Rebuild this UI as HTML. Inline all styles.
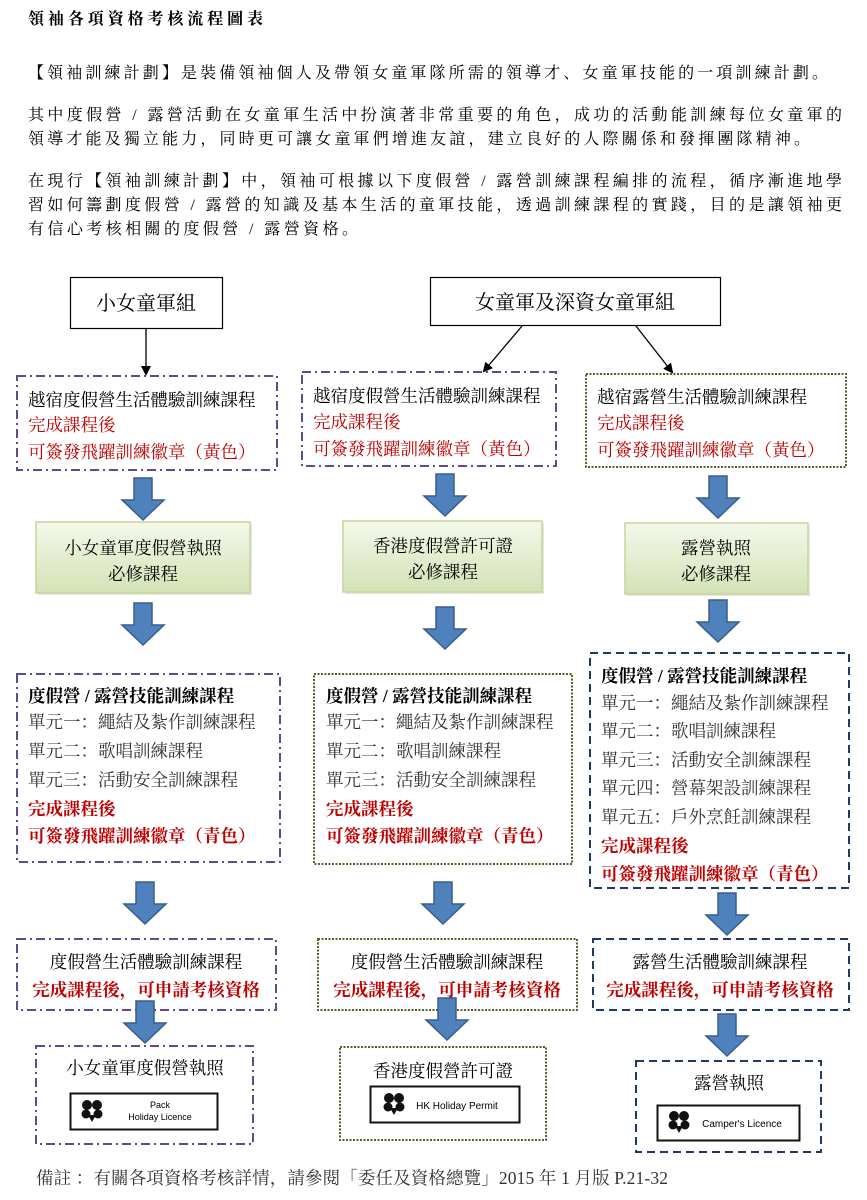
<!DOCTYPE html>
<html><head><meta charset="utf-8"><style>
html,body{margin:0;padding:0;background:#fff;}
svg{display:block;font-family:"Liberation Serif","Noto Serif CJK SC","Noto Sans CJK TC",serif;}
.t{font-size:17.5px;fill:#000;}
.r{font-size:17.5px;fill:#c00000;}
.g{font-size:17.5px;fill:#333;}
.b{font-weight:bold;}
.p{font-size:16px;fill:#000;}
</style></head><body>
<svg width="867" height="1200" viewBox="0 0 867 1200" xmlns="http://www.w3.org/2000/svg">
<defs>
<linearGradient id="gg" x1="0" y1="0" x2="0" y2="1"><stop offset="0" stop-color="#f4f8ea"/><stop offset="1" stop-color="#d4e2b6"/></linearGradient>
<marker id="ah" markerWidth="10" markerHeight="10" refX="8" refY="5" orient="auto" markerUnits="userSpaceOnUse"><path d="M0,0 L10,5 L0,10 z" fill="#000"/></marker>
<g id="arr"><path d="M-9,0 H9 V22 H21 L0,42 L-21,22 H-9 Z" fill="#4f81bd" stroke="#385d8a" stroke-width="1.5"/></g>
<g id="flower"><circle cx="-5" cy="-5" r="5" fill="#111"/><circle cx="5" cy="-5" r="5" fill="#111"/><circle cx="-6" cy="4" r="4.5" fill="#111"/><circle cx="6" cy="4" r="4.5" fill="#111"/><path d="M-4,5 L0,12 L4,5 Z" fill="#111"/></g>
</defs>

<text x="28" y="24" class="p b" font-size="16" textLength="235">領袖各項資格考核流程圖表</text>
<text x="28" y="78" class="p" textLength="800">【領袖訓練計劃】是裝備領袖個人及帶領女童軍隊所需的領導才、女童軍技能的一項訓練計劃。</text>
<text x="28" y="120" class="p" textLength="814">其中度假營 / 露營活動在女童軍生活中扮演著非常重要的角色，成功的活動能訓練每位女童軍的</text>
<text x="28" y="144" class="p" textLength="782">領導才能及獨立能力，同時更可讓女童軍們增進友誼，建立良好的人際關係和發揮團隊精神。</text>
<text x="28" y="186" class="p" textLength="814">在現行【領袖訓練計劃】中，領袖可根據以下度假營 / 露營訓練課程編排的流程，循序漸進地學</text>
<text x="28" y="210" class="p" textLength="814">習如何籌劃度假營 / 露營的知識及基本生活的童軍技能，透過訓練課程的實踐，目的是讓領袖更</text>
<text x="28" y="234" class="p" textLength="330">有信心考核相關的度假營 / 露營資格。</text>

<rect x="70.5" y="277.5" width="152" height="51" fill="#fff" stroke="#000" stroke-width="1.2"/>
<text x="146" y="310" font-size="20" text-anchor="middle">小女童軍組</text>
<rect x="430.5" y="277.5" width="290" height="48" fill="#fff" stroke="#000" stroke-width="1.2"/>
<text x="575" y="309" font-size="20" text-anchor="middle">女童軍及深資女童軍組</text>
<line x1="146" y1="329" x2="146" y2="374" stroke="#000" stroke-width="1.3" marker-end="url(#ah)"/>
<line x1="522" y1="326" x2="484" y2="371" stroke="#000" stroke-width="1.3" marker-end="url(#ah)"/>
<line x1="636" y1="326" x2="672" y2="372" stroke="#000" stroke-width="1.3" marker-end="url(#ah)"/>

<rect x="17" y="376" width="260" height="94" fill="none" stroke="#5f4b8b" stroke-width="2" stroke-dasharray="9 4 2 4"/>
<text x="28" y="406" class="t">越宿度假營生活體驗訓練課程</text>
<text x="28" y="431" class="r">完成課程後</text>
<text x="28" y="458" class="r">可簽發飛躍訓練徽章（黃色）</text>
<rect x="302" y="372" width="254" height="94" fill="none" stroke="#5f4b8b" stroke-width="2" stroke-dasharray="9 4 2 4"/>
<text x="313" y="402" class="t">越宿度假營生活體驗訓練課程</text>
<text x="313" y="428" class="r">完成課程後</text>
<text x="313" y="455" class="r">可簽發飛躍訓練徽章（黃色）</text>
<rect x="586" y="374" width="260" height="93" fill="none" stroke="#4f6228" stroke-width="2" stroke-dasharray="2 1.5"/>
<text x="597" y="403" class="t">越宿露營生活體驗訓練課程</text>
<text x="597" y="429" class="r">完成課程後</text>
<text x="597" y="456" class="r">可簽發飛躍訓練徽章（黃色）</text>

<use href="#arr" x="143" y="478"/>
<use href="#arr" x="445" y="474"/>
<use href="#arr" x="718" y="476"/>

<rect x="38" y="524" width="214" height="71" fill="#ccc" opacity="0.5"/>
<rect x="36" y="522" width="214" height="71" fill="url(#gg)" stroke="#c3d69b" stroke-width="1.5"/>
<text x="143" y="554" class="t" text-anchor="middle">小女童軍度假營執照</text>
<text x="143" y="580" class="t" text-anchor="middle">必修課程</text>
<rect x="345" y="523" width="199" height="71" fill="#ccc" opacity="0.5"/>
<rect x="343" y="521" width="199" height="71" fill="url(#gg)" stroke="#c3d69b" stroke-width="1.5"/>
<text x="443" y="552" class="t" text-anchor="middle">香港度假營許可證</text>
<text x="443" y="578" class="t" text-anchor="middle">必修課程</text>
<rect x="627" y="525" width="183" height="71" fill="#ccc" opacity="0.5"/>
<rect x="625" y="523" width="183" height="71" fill="url(#gg)" stroke="#c3d69b" stroke-width="1.5"/>
<text x="716" y="554" class="t" text-anchor="middle">露營執照</text>
<text x="716" y="580" class="t" text-anchor="middle">必修課程</text>

<use href="#arr" x="143" y="603"/>
<use href="#arr" x="445" y="607"/>
<use href="#arr" x="718" y="600"/>

<rect x="17" y="674" width="263" height="188" fill="none" stroke="#5f4b8b" stroke-width="2" stroke-dasharray="9 4 2 4"/>
<text x="28" y="702" class="t b">度假營 / 露營技能訓練課程</text>
<text x="28" y="728" class="g">單元一：繩結及紮作訓練課程</text>
<text x="28" y="757" class="g">單元二：歌唱訓練課程</text>
<text x="28" y="786" class="g">單元三：活動安全訓練課程</text>
<text x="28" y="815" class="r b">完成課程後</text>
<text x="28" y="842" class="r b">可簽發飛躍訓練徽章（青色）</text>
<rect x="314" y="674" width="258" height="190" fill="none" stroke="#4f6228" stroke-width="2" stroke-dasharray="2 1.5"/>
<text x="326" y="702" class="t b">度假營 / 露營技能訓練課程</text>
<text x="326" y="728" class="g">單元一：繩結及紮作訓練課程</text>
<text x="326" y="757" class="g">單元二：歌唱訓練課程</text>
<text x="326" y="786" class="g">單元三：活動安全訓練課程</text>
<text x="326" y="815" class="r b">完成課程後</text>
<text x="326" y="842" class="r b">可簽發飛躍訓練徽章（青色）</text>
<rect x="590" y="653" width="259" height="235" fill="none" stroke="#1f3864" stroke-width="2" stroke-dasharray="8 5"/>
<text x="601" y="682" class="t b">度假營 / 露營技能訓練課程</text>
<text x="601" y="709" class="g">單元一：繩結及紮作訓練課程</text>
<text x="601" y="737" class="g">單元二：歌唱訓練課程</text>
<text x="601" y="766" class="g">單元三：活動安全訓練課程</text>
<text x="601" y="794" class="g">單元四：營幕架設訓練課程</text>
<text x="601" y="823" class="g">單元五：戶外烹飪訓練課程</text>
<text x="601" y="852" class="r b">完成課程後</text>
<text x="601" y="880" class="r b">可簽發飛躍訓練徽章（青色）</text>

<use href="#arr" x="145" y="882"/>
<use href="#arr" x="443" y="882"/>
<use href="#arr" x="727" y="893"/>

<rect x="17" y="939" width="259" height="71" fill="#fff" stroke="#5f4b8b" stroke-width="2" stroke-dasharray="9 4 2 4"/>
<text x="146" y="968" class="t" text-anchor="middle">度假營生活體驗訓練課程</text>
<text x="146" y="996" class="r b" text-anchor="middle">完成課程後，可申請考核資格</text>
<rect x="318" y="939" width="259" height="71" fill="#fff" stroke="#4f6228" stroke-width="2" stroke-dasharray="2 1.5"/>
<text x="447" y="968" class="t" text-anchor="middle">度假營生活體驗訓練課程</text>
<text x="447" y="996" class="r b" text-anchor="middle">完成課程後，可申請考核資格</text>
<rect x="593" y="939" width="256" height="71" fill="#fff" stroke="#1f3864" stroke-width="2" stroke-dasharray="8 5"/>
<text x="720" y="968" class="t" text-anchor="middle">露營生活體驗訓練課程</text>
<text x="720" y="996" class="r b" text-anchor="middle">完成課程後，可申請考核資格</text>

<use href="#arr" x="145" y="1001"/>
<use href="#arr" x="447" y="998"/>
<use href="#arr" x="727" y="1014"/>

<rect x="36" y="1046" width="217" height="98" fill="none" stroke="#5f4b8b" stroke-width="2" stroke-dasharray="9 4 2 4"/>
<text x="145" y="1074" class="t" text-anchor="middle">小女童軍度假營執照</text>
<rect x="70.5" y="1093.5" width="147" height="36" fill="#fff" stroke="#111" stroke-width="2"/>
<use href="#flower" x="92" y="1110"/>
<text x="160" y="1108" font-family="Liberation Sans,sans-serif" font-size="9" text-anchor="middle">Pack</text>
<text x="160" y="1120" font-family="Liberation Sans,sans-serif" font-size="9" text-anchor="middle">Holiday Licence</text>

<rect x="340" y="1047" width="206" height="93" fill="none" stroke="#4f6228" stroke-width="2" stroke-dasharray="2 1.5"/>
<text x="443" y="1077" class="t" text-anchor="middle">香港度假營許可證</text>
<rect x="370.5" y="1086.5" width="149" height="36" fill="#fff" stroke="#111" stroke-width="2"/>
<use href="#flower" x="394" y="1103"/>
<text x="457" y="1109" font-family="Liberation Sans,sans-serif" font-size="10" text-anchor="middle">HK Holiday Permit</text>

<rect x="636" y="1061" width="185" height="91" fill="none" stroke="#1f3864" stroke-width="2" stroke-dasharray="8 5"/>
<text x="729" y="1089" class="t" text-anchor="middle">露營執照</text>
<rect x="657.5" y="1105.5" width="142" height="35" fill="#fff" stroke="#111" stroke-width="2"/>
<use href="#flower" x="679" y="1121"/>
<text x="742" y="1127" font-family="Liberation Sans,sans-serif" font-size="10" text-anchor="middle">Camper's Licence</text>

<text x="36" y="1184" class="g" font-size="16" textLength="632">備註 ：有關各項資格考核詳情，請參閱「委任及資格總覽」2015 年 1 月版 P.21-32</text>
</svg>
</body></html>
